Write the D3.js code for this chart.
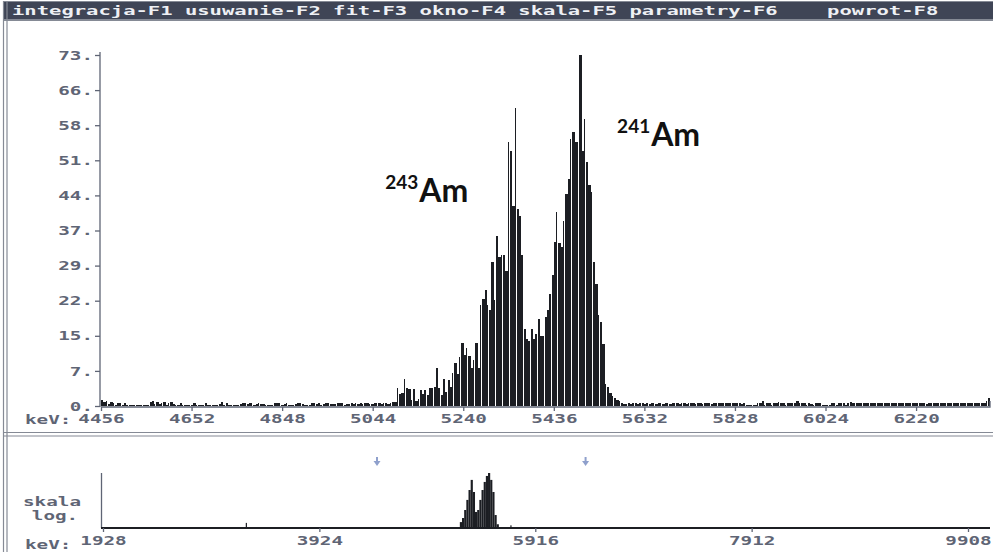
<!DOCTYPE html>
<html><head><meta charset="utf-8">
<script src="https://cdn.jsdelivr.net/npm/d3@7"></script>
<style>
html,body{margin:0;padding:0;background:#fff;}
svg{display:block;}
</style></head><body>
<svg id="c" width="993" height="552"></svg>
<script>
// ---- spectrum data -------------------------------------------------------
const menuText = "integracja-F1 usuwanie-F2 fit-F3 okno-F4 skala-F5 parametry-F6    powrot-F8";

const CH_KEV = 5;            // channel width, keV
const START_KEV = 4456;      // first channel of the zoomed window
const END_KEV = 6380;        // end of the zoomed window

// background below the americium lines (4456 .. 5091 keV)
const bgLow = [
  1.3,0.9,1.1,0.4,0.9,0.6,0.2,0.7,0.6,0.3,
  0.6,0.2,0.2,0.3,0.2,0.2,0.2,0.3,0.2,0.2,
  0.2,0.9,1.0,0.5,0.8,0.4,0.6,0.8,0.3,0.7,
  0.9,0.4,0.3,0.2,0.7,0.3,0.2,0.2,0.2,0.2,
  0.6,0.2,0.2,0.2,0.2,0.7,0.2,0.2,0.2,0.2,
  0.2,0.5,0.9,0.2,0.6,0.2,0.2,0.2,0.2,0.2,
  0.5,0.6,0.6,0.5,0.6,0.6,0.2,0.5,0.6,0.5,
  0.5,0.3,0.3,0.3,0.3,0.6,0.6,0.6,0.2,0.5,
  0.6,0.2,0.2,0.2,0.5,0.6,0.6,0.5,0.3,0.3,
  0.3,0.6,0.6,0.5,0.6,0.2,0.5,0.6,0.6,0.5,
  0.5,0.5,0.6,0.6,0.6,0.2,0.5,0.5,0.6,0.5,
  0.6,0.5,0.6,0.5,0.6,0.6,0.5,0.5,0.6,0.6,
  0.6,0.5,0.6,0.6,0.5,0.6,0.8
];

// 243Am / 241Am region (5091 .. 5586 keV)
const peakCounts = [
  0.8,3.7,2.5,2.7,5.6,3.7,3.5,1.2,3.5,1.0,
  1.4,3.4,2.4,3.4,2.3,3.7,3.7,3.9,7.9,3.7,
  2.3,5.6,3.0,5.4,4.0,6.8,8.9,6.6,10.2,13.0,
  10.7,12.0,10.5,7.9,9.6,13.0,8.0,21.0,22.3,24.2,
  21.0,20.0,30.0,22.0,35.3,31.0,31.5,31.5,28.0,55.0,
  53.0,41.5,62.0,41.0,39.5,31.5,16.0,14.0,13.5,16.0,
  14.0,15.0,18.0,14.5,14.5,18.5,20.0,23.2,27.3,34.2,
  40.4,34.0,33.0,38.4,44.0,47.3,55.6,57.0,55.0,55.0,
  73.0,53.0,59.7,50.8,46.0,44.5,30.0,25.3,19.0,17.5,
  12.9,4.6,4.0,2.8,2.0,1.6,1.2,1.0,0.6
];

// background above the lines (5586 .. 6380 keV)
const bgHigh = [
  0.5,0.5,0.6,0.5,0.6,0.6,0.5,0.6,0.6,0.5,
  0.6,0.5,0.6,0.6,0.5,0.6,0.6,0.5,0.6,0.6,
  0.5,0.6,0.6,0.6,0.5,0.6,0.6,0.5,0.6,0.6,
  0.6,0.5,0.6,0.6,0.5,0.6,0.6,0.6,0.5,0.6,
  0.6,0.7,0.6,0.6,0.7,0.6,0.6,0.6,0.7,0.6,
  0.6,0.5,0.6,0.2,0.2,0.2,0.2,0.2,0.6,0.6,
  1.0,0.2,0.6,0.6,0.3,0.7,0.6,0.9,0.6,0.6,
  0.2,0.6,0.6,0.7,0.6,1.0,0.6,0.6,0.6,0.2,
  0.6,0.5,0.2,0.6,0.6,0.7,0.2,0.2,0.2,0.2,
  0.6,0.6,0.2,0.7,0.6,0.6,0.2,0.6,0.9,0.6,
  0.6,0.6,0.7,0.6,0.6,0.6,0.6,0.7,0.6,0.6,
  0.6,0.6,0.7,0.6,0.6,0.6,0.6,0.6,0.7,0.6,
  0.6,0.6,0.6,0.7,0.6,0.6,0.6,0.7,0.6,0.6,
  0.6,0.5,0.6,0.6,0.6,0.7,0.6,0.6,0.6,0.6,
  0.6,0.6,0.7,0.6,0.6,0.6,0.6,0.7,0.6,0.6,
  0.6,0.6,0.6,0.7,0.6,0.6,0.6,1.0,1.6
];

const Y_MAX = 73;
const yTickValues = [0, 7.3, 14.6, 21.9, 29.2, 36.5, 43.8, 51.1, 58.4, 65.7, 73];
const yTickLabels = ["0.", "7.", "15.", "22.", "29.", "37.", "44.", "51.", "58.", "66.", "73."];
const xTickValues = [4456, 4652, 4848, 5044, 5240, 5436, 5632, 5828, 6024, 6220];

// whole-spectrum overview (log scale)
const OVERVIEW_START = 1928, OVERVIEW_END = 10111;
const overviewTicks = [1928, 3924, 5916, 7912, 9908];
const overviewBinKeV = [5220,5240,5260,5280,5300,5320,5340,5360,5380,5400,5420,5440,5460,5480,5500,5520,5540,5560];
const overviewCounts = [2.1,3.5,9.6,34,118,420,92,7.5,9.6,34,118,325,690,1000,420,92,5.1,1.6];
const overviewSpikeKeV = [3245, 5686];
const overviewSpikeCounts = [1.9, 1.4];
const OVERVIEW_BIN = 20;

const isotopes = [
  { mass: "243", element: "Am", keV: 5071, level: 42.5 },
  { mass: "241", element: "Am", keV: 5573, level: 54.0 }
];

// ---- drawing -------------------------------------------------------------
const counts = bgLow.concat(peakCounts, bgHigh);
const channels = counts.map((v, i) => ({ e: START_KEV + i * CH_KEV, v }));

const svg = d3.select("#c");
const INK = "#1c1e23", GREY = "#5f6575", FRAME = "#858a95";
const monoFont = "'DejaVu Sans Mono', 'Liberation Mono', monospace";
const CHAR_W = 11.6;

function stretch(sel, charW) {
  sel.each(function () {
    const t = d3.select(this), s = t.text();
    t.attr("textLength", s.length * charW).attr("lengthAdjust", "spacingAndGlyphs");
  });
}

// frame and menu bar
svg.append("rect").attr("x", 4).attr("y", 2).attr("width", 989).attr("height", 17).attr("fill", "#3f4556");
svg.append("line").attr("x1", 4).attr("x2", 993).attr("y1", 1.5).attr("y2", 1.5).attr("stroke", FRAME);
svg.append("line").attr("x1", 4).attr("x2", 993).attr("y1", 20).attr("y2", 20).attr("stroke", FRAME).attr("stroke-width", 2);
[3.5, 7].forEach(x => svg.append("line").attr("x1", x).attr("x2", x).attr("y1", 1).attr("y2", 552).attr("stroke", FRAME).attr("stroke-width", 1.2));
[432.5, 436].forEach(y => svg.append("line").attr("x1", 4).attr("x2", 993).attr("y1", y).attr("y2", y).attr("stroke", FRAME).attr("stroke-width", 1.2));

svg.append("text").attr("x", 12).attr("y", 15)
  .attr("font-family", monoFont).attr("font-weight", "bold").attr("font-size", 13)
  .attr("fill", "#eef0f4").attr("xml:space", "preserve").style("white-space", "pre")
  .text(menuText).call(stretch, 12.35);

// main spectrum window
const x = d3.scaleLinear().domain([START_KEV, END_KEV]).range([101, 990]);
const y = d3.scaleLinear().domain([0, Y_MAX]).range([406, 55]);
const step = x(START_KEV + CH_KEV) - x(START_KEV);

svg.append("g").selectAll("rect").data(channels).join("rect")
  .attr("x", d => x(d.e))
  .attr("width", (d, i) => i % 3 === 2 ? step - 1 : step)
  .attr("y", d => y(d.v))
  .attr("height", d => y(0) - y(d.v))
  .attr("fill", INK)
  .attr("shape-rendering", "crispEdges");

const yAxis = svg.append("g").attr("transform", "translate(100,0)")
  .call(d3.axisLeft(y).tickValues(yTickValues).tickFormat((d, i) => yTickLabels[i]).tickSize(5).tickPadding(2));
const xAxis = svg.append("g").attr("transform", `translate(0,${y(0) + 1})`)
  .call(d3.axisBottom(x).tickValues(xTickValues).tickFormat(d3.format("d")).tickSize(4).tickPadding(3));

[yAxis, xAxis].forEach(g => {
  g.select(".domain").attr("stroke", GREY).attr("stroke-width", 1.3);
  g.selectAll(".tick line").attr("stroke", GREY).attr("stroke-width", 1.3);
  g.selectAll("text").attr("font-family", monoFont).attr("font-weight", "bold")
    .attr("font-size", 13).attr("fill", GREY).call(stretch, CHAR_W);
});
yAxis.select(".domain").attr("d", `M0,${y(Y_MAX) - 3}V${y(0) + 1}`);
xAxis.select(".domain").attr("d", `M101,0H990V-6`);

svg.append("text").attr("x", 25).attr("y", 424)
  .attr("font-family", monoFont).attr("font-weight", "bold").attr("font-size", 13)
  .attr("fill", GREY).text("keV:").call(stretch, CHAR_W);

// isotope labels
isotopes.forEach(d => {
  const t = svg.append("text").attr("x", x(d.keV)).attr("y", y(d.level))
    .attr("font-family", "Lato, 'Open Sans', sans-serif").attr("font-weight", "bold").attr("fill", "#111");
  t.append("tspan").attr("font-size", 19).attr("dy", -13).text(d.mass);
  t.append("tspan").attr("font-size", 32).attr("dy", 13).attr("dx", 1).text(d.element);
});

// overview window (log scale)
const xo = d3.scaleLinear().domain([OVERVIEW_START, OVERVIEW_END]).range([103, 990]);
const yo = d3.scaleLog().domain([1, 1000]).range([528, 473]);

// markers of the zoomed window
[START_KEV, END_KEV].forEach(e => {
  const cx = xo(e);
  svg.append("path").attr("d", `M${cx},457V463`).attr("stroke", "#8fa0cc").attr("stroke-width", 2);
  svg.append("path").attr("d", `M${cx - 3.5},461L${cx + 3.5},461L${cx},466Z`).attr("fill", "#8fa0cc");
});

const ovBins = overviewBinKeV.map((e, i) => ({ e, v: overviewCounts[i], w: OVERVIEW_BIN }))
  .concat(overviewSpikeKeV.map((e, i) => ({ e, v: overviewSpikeCounts[i], w: 8 })));
svg.append("g").selectAll("rect").data(ovBins).join("rect")
  .attr("x", d => xo(d.e)).attr("width", d => Math.max(1.2, xo(d.e + d.w) - xo(d.e)))
  .attr("y", d => yo(d.v)).attr("height", d => 528 - yo(d.v)).attr("fill", INK);

svg.append("line").attr("x1", 101.5).attr("x2", 101.5).attr("y1", 473).attr("y2", 528).attr("stroke", GREY).attr("stroke-width", 1.3);
const xoAxis = svg.append("g").attr("transform", "translate(0,528)")
  .call(d3.axisBottom(xo).tickValues(overviewTicks).tickFormat(d3.format("d")).tickSize(4).tickPadding(4));
xoAxis.select(".domain").attr("d", "M101,0H990").attr("stroke", INK).attr("stroke-width", 2.2);
xoAxis.selectAll(".tick line").attr("stroke", GREY).attr("stroke-width", 1.3);
xoAxis.selectAll("text").attr("font-family", monoFont).attr("font-weight", "bold")
  .attr("font-size", 13).attr("fill", GREY).call(stretch, CHAR_W);

svg.append("text").attr("x", 25).attr("y", 549)
  .attr("font-family", monoFont).attr("font-weight", "bold").attr("font-size", 13)
  .attr("fill", GREY).text("keV:").call(stretch, CHAR_W);
svg.append("text").attr("x", 52).attr("y", 506).attr("text-anchor", "middle")
  .attr("font-family", monoFont).attr("font-weight", "bold").attr("font-size", 13)
  .attr("fill", GREY).text("skala").call(stretch, CHAR_W);
svg.append("text").attr("x", 55).attr("y", 520).attr("text-anchor", "middle")
  .attr("font-family", monoFont).attr("font-weight", "bold").attr("font-size", 13)
  .attr("fill", GREY).text("log.").call(stretch, CHAR_W);
</script>
</body></html>
